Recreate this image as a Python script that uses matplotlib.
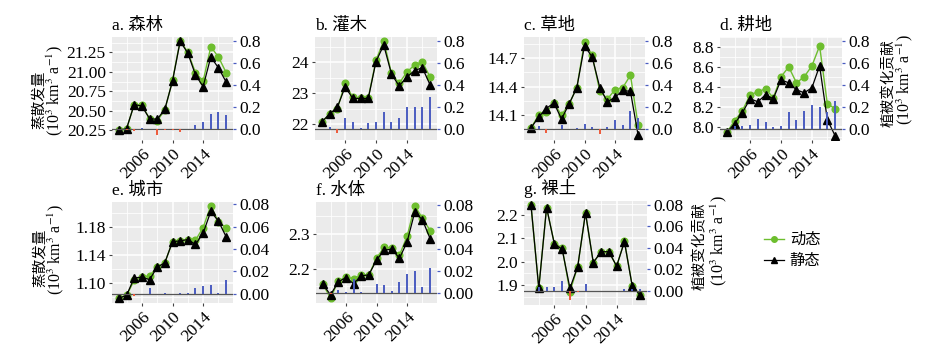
import matplotlib
matplotlib.use('Agg')
import matplotlib.pyplot as plt
from matplotlib.lines import Line2D
import numpy as np

plt.rcParams['font.family'] = ['Liberation Serif', 'Noto Sans CJK SC', 'DejaVu Sans']
plt.rcParams['mathtext.fontset'] = 'stix'

years = list(range(2003, 2018))

titles = ['a. 森林', 'b. 灌木', 'c. 草地', 'd. 耕地', 'e. 城市', 'f. 水体', 'g. 裸土']

forest_static = [20.25, 20.27, 20.58, 20.56, 20.40, 20.39, 20.52, 20.88, 21.39, 21.24, 20.96, 20.81, 21.19, 21.05, 20.87]
forest_dynamic = [20.25, 20.27, 20.58, 20.57, 20.40, 20.37, 20.51, 20.89, 21.40, 21.25, 20.99, 20.88, 21.32, 21.19, 20.99]
forest_veg = [0, -0.005, -0.012, 0.015, 0.0, -0.05, -0.01, -0.005, -0.025, 0.0, 0.04, 0.07, 0.14, 0.155, 0.13]

shrub_static = [22.09, 22.34, 22.56, 23.21, 22.84, 22.84, 22.84, 24.03, 24.56, 23.63, 23.24, 23.53, 23.74, 23.83, 23.28]
shrub_dynamic = [22.09, 22.34, 22.51, 23.33, 22.87, 22.85, 22.86, 24.07, 24.70, 23.65, 23.33, 23.69, 23.92, 24.02, 23.53]
shrub_veg = [0, 0.025, -0.03, 0.105, 0.065, 0.015, 0.06, 0.07, 0.16, 0.07, 0.105, 0.20, 0.205, 0.205, 0.29]

grass_static = [13.965, 14.08, 14.17, 14.23, 14.06, 14.22, 14.39, 14.83, 14.71, 14.39, 14.24, 14.29, 14.36, 14.35, 13.89]
grass_dynamic = [13.965, 14.10, 14.13, 14.23, 14.10, 14.22, 14.39, 14.87, 14.73, 14.35, 14.27, 14.37, 14.39, 14.52, 14.00]
grass_veg = [0, 0.03, -0.035, 0.0, 0.04, 0.0, 0.01, 0.05, 0.025, -0.045, 0.025, 0.08, 0.04, 0.17, 0.10]

crop_static = [7.946, 8.03, 8.14, 8.28, 8.25, 8.32, 8.28, 8.47, 8.44, 8.37, 8.34, 8.39, 8.61, 8.07, 7.91]
crop_dynamic = [7.946, 8.06, 8.16, 8.32, 8.35, 8.38, 8.29, 8.50, 8.60, 8.44, 8.50, 8.61, 8.81, 8.23, 8.18]
crop_veg = [0, 0.03, 0.03, 0.04, 0.095, 0.065, 0.02, 0.03, 0.155, 0.08, 0.17, 0.22, 0.20, 0.155, 0.26]

urban_static = [1.0788, 1.0826, 1.1075, 1.1085, 1.105, 1.1226, 1.129, 1.159, 1.160, 1.162, 1.155, 1.171, 1.202, 1.188, 1.166]
urban_dynamic = [1.0788, 1.0826, 1.104, 1.1085, 1.1106, 1.1226, 1.129, 1.159, 1.160, 1.162, 1.161, 1.179, 1.210, 1.187, 1.179]
urban_veg = [0, 0.0, -0.002, 0.0, 0.0054, 0.0, 0.001, 0.0, 0.001, 0.001, 0.005, 0.0066, 0.008, 0.0006, 0.0125]

water_static = [2.156, 2.126, 2.163, 2.175, 2.158, 2.18, 2.183, 2.225, 2.253, 2.256, 2.23, 2.277, 2.362, 2.339, 2.286]
water_dynamic = [2.156, 2.117, 2.165, 2.177, 2.172, 2.182, 2.183, 2.23, 2.262, 2.258, 2.239, 2.293, 2.379, 2.344, 2.309]
water_veg = [0, -0.001, 0.0027, 0.001, 0.013, 0.001, -0.0005, 0.0078, 0.0074, 0.0018, 0.0095, 0.0175, 0.0196, 0.005, 0.0228]

bare_static = [2.243, 1.886, 2.233, 2.076, 2.054, 1.886, 1.979, 2.21, 1.996, 2.043, 2.043, 1.981, 2.086, 1.896, 1.857]
bare_dynamic = [2.243, 1.886, 2.233, 2.078, 2.060, 1.871, 1.979, 2.21, 1.996, 2.043, 2.043, 1.981, 2.088, 1.897, 1.858]
bare_veg = [0, 0.0037, 0.003, 0.003, 0.009, -0.009, -0.0015, 0.006, 0.0, -0.0005, -0.0005, -0.0005, 0.002, 0.002, 0.002]

left_ticks = [
    [20.25, 20.50, 20.75, 21.00, 21.25],
    [22, 23, 24],
    [14.1, 14.4, 14.7],
    [8.0, 8.2, 8.4, 8.6, 8.8],
    [1.10, 1.14, 1.18],
    [2.2, 2.3],
    [1.9, 2.0, 2.1, 2.2],
]
left_fmt = ['%.2f', '%d', '%.1f', '%.1f', '%.2f', '%.1f', '%.1f']
right_ticks_big = [0.0, 0.2, 0.4, 0.6, 0.8]
right_ticks_small = [0.00, 0.02, 0.04, 0.06, 0.08]
x_ticks = [2006, 2010, 2014]
x_minor = [2004, 2008, 2012, 2016]

statics = [forest_static, shrub_static, grass_static, crop_static, urban_static, water_static, bare_static]
dynamics = [forest_dynamic, shrub_dynamic, grass_dynamic, crop_dynamic, urban_dynamic, water_dynamic, bare_dynamic]
vegs = [forest_veg, shrub_veg, grass_veg, crop_veg, urban_veg, water_veg, bare_veg]

left_lims = [(20.19, 21.446), (21.953, 24.82), (13.84, 14.921), (7.866, 8.85),
             (1.0718, 1.2153), (2.103, 2.39), (1.814, 2.261)]
right_lims = [(-0.097, 0.836)] * 4 + [(-0.0084, 0.0821), (-0.0092, 0.0827), (-0.0133, 0.0834)]

W, H = 942, 352
fig = plt.figure(figsize=(W / 100, H / 100), dpi=100)

# panel boxes in pixels: (left, top, right, bottom)
boxes = [(112, 37, 233, 140), (315, 37, 437, 140), (524, 37, 645, 140), (720, 37, 842, 140),
         (112, 202, 233, 303), (316, 202, 437, 303), (524, 201, 647, 305)]

GREEN = '#6DBE2E'
BLUE = '#4A5CC0'
RED = '#EE5A3A'
tick_fs = 12.5

for i in range(7):
    l, t, r, b = boxes[i]
    ax = fig.add_axes([l / W, 1 - b / H, (r - l) / W, (b - t) / H])
    ax.set_facecolor('#EBEBEB')
    for s in ax.spines.values():
        s.set_visible(False)
    ax.set_xlim(2002.1, 2017.9)
    ax.set_ylim(*left_lims[i])
    lt = left_ticks[i]
    ax.set_yticks(lt)
    ax.set_yticklabels([left_fmt[i] % v for v in lt], fontsize=tick_fs)
    minor_y = [(lt[k] + lt[k + 1]) / 2 for k in range(len(lt) - 1)]
    step = lt[1] - lt[0]
    minor_y = [lt[0] - step / 2] + minor_y + [lt[-1] + step / 2]
    ax.set_yticks(minor_y, minor=True)
    ax.set_xticks(x_ticks)
    ax.set_xticks(x_minor, minor=True)
    ax.set_xticklabels([str(v) for v in x_ticks], fontsize=tick_fs, rotation=45,
                       ha='right', va='top', rotation_mode='anchor')
    ax.tick_params(axis='both', which='major', length=2.5, width=0.8, color='#444444', pad=2)
    ax.tick_params(axis='both', which='minor', length=0)
    ax.grid(True, which='major', color='white', linewidth=1.1)
    ax.grid(True, which='minor', color='white', linewidth=0.55)
    ax.set_axisbelow(True)

    ax.plot(years, dynamics[i], color=GREEN, linewidth=1.0, marker='o', markersize=4.8, zorder=3)
    ax.plot(years, statics[i], color='black', linewidth=0.9, marker='^', markersize=6, zorder=4)

    ax2 = ax.twinx()
    for s in ax2.spines.values():
        s.set_visible(False)
    ax2.set_ylim(*right_lims[i])
    v = np.array(vegs[i])
    cols = [BLUE if val >= 0 else RED for val in v]
    ax2.vlines(years, 0, v, colors=cols, linewidth=1.4, zorder=2)
    ax2.axhline(0, color='#555555', linewidth=0.9, zorder=1)
    if i < 4:
        ax2.set_yticks(right_ticks_big)
        ax2.set_yticklabels(['%.1f' % v_ for v_ in right_ticks_big], fontsize=tick_fs)
    else:
        ax2.set_yticks(right_ticks_small)
        ax2.set_yticklabels(['%.2f' % v_ for v_ in right_ticks_small], fontsize=tick_fs)
    ax2.tick_params(axis='y', length=2.5, width=0.9, color='#4A5CC0', pad=2)

    fig.text(l / W, 1 - (t - 3) / H, titles[i], fontsize=12.5, ha='left', va='bottom',
             family=['Liberation Serif', 'Noto Sans CJK SC'])

# axis titles
lab_latin = '(10$^{3}$ km$^{3}$ a$^{-1}$)'
for (cx1, cx2, cy1, cy2) in [(39, 55, 100, 91), (40, 56, 258, 250)]:
    fig.text(cx1 / W, 1 - cy1 / H, '蒸散发量', rotation=90, ha='center', va='center',
             fontsize=10.5, family=['Noto Sans CJK SC'])
    fig.text(cx2 / W, 1 - cy2 / H, lab_latin, rotation=90, ha='center', va='center', fontsize=11.5)
for (cx1, cx2, cy1, cy2) in [(889, 905, 83, 80), (700, 719, 246, 241)]:
    fig.text(cx1 / W, 1 - cy1 / H, '植被变化贡献', rotation=90, ha='center', va='center',
             fontsize=10.5, family=['Noto Sans CJK SC'])
    fig.text(cx2 / W, 1 - cy2 / H, lab_latin, rotation=90, ha='center', va='center', fontsize=11.5)

handles = [Line2D([0], [0], color=GREEN, marker='o', markersize=4, linewidth=1.0),
           Line2D([0], [0], color='black', marker='^', markersize=5, linewidth=0.9)]
fig.legend(handles, ['动态', '静态'], loc='center left', bbox_to_anchor=(750 / W, 1 - 250 / H),
           frameon=False, handlelength=1.3, handletextpad=0.4, labelspacing=0.25,
           prop={'family': ['Noto Sans CJK SC'], 'size': 11})

fig.savefig('out.png', dpi=100)
